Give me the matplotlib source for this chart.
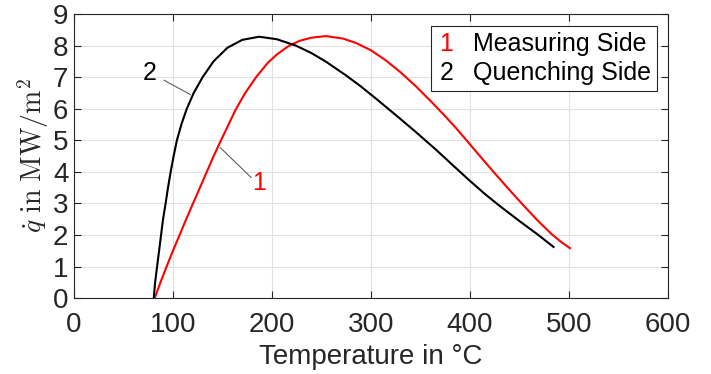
import matplotlib
matplotlib.use('Agg')
import matplotlib.pyplot as plt
import matplotlib.text as mtext
from matplotlib.lines import Line2D

plt.rcParams['font.family'] = ['Liberation Sans', 'DejaVu Sans']
plt.rcParams['mathtext.fontset'] = 'cm'

# measuring side (1)
temp_meas = [81.6, 88, 94, 100, 106.7, 113, 120, 127, 133.6, 140, 147, 155, 163, 173, 184,
             195.7, 205, 217.5, 228, 240, 254.5, 272, 285, 300, 315, 330, 345, 360,
             372, 385, 397, 410, 424, 438, 452.5, 467, 482.7, 492, 501]
q_meas = [0, 0.55, 1.03, 1.5, 2.0, 2.47, 2.98, 3.48, 3.96, 4.42, 4.9, 5.42, 5.95, 6.5, 7.0,
          7.45, 7.72, 8.0, 8.15, 8.25, 8.3, 8.22, 8.08, 7.85, 7.53, 7.15, 6.72, 6.25,
          5.86, 5.42, 4.98, 4.5, 3.99, 3.49, 2.99, 2.5, 2.02, 1.78, 1.58]

# quenching side (2)
temp_quen = [80.6, 82, 84, 86, 88, 90, 92.6, 95, 97.7, 100.5, 104, 108.5, 114, 121, 130,
             141, 155, 170, 187, 205, 224, 240, 254.5, 275, 290, 305, 325, 345,
             365, 383, 399, 415, 430, 450, 469, 484.4]
q_quen = [0, 0.5, 1.0, 1.5, 2.0, 2.5, 3.0, 3.5, 4.0, 4.47, 5.0, 5.5, 6.0, 6.5, 7.0,
          7.5, 7.93, 8.18, 8.28, 8.2, 8.0, 7.76, 7.49, 7.05, 6.7, 6.32, 5.8, 5.27,
          4.72, 4.2, 3.74, 3.3, 2.92, 2.44, 2.0, 1.62]

xticks = [0, 100, 200, 300, 400, 500, 600]
yticks = list(range(10))
legend_marks = ['1', '2']
legend_names = ['Measuring Side', 'Quenching Side']
colors = ['#ff0000', '#000000']


class TextHandler:
    def __init__(self, s, color):
        self.s = s
        self.color = color

    def legend_artist(self, legend, orig_handle, fontsize, handlebox):
        t = mtext.Text(handlebox.width / 2, -handlebox.ydescent, self.s, color=self.color,
                       fontsize=fontsize, ha='center', va='baseline')
        handlebox.add_artist(t)
        return t


fig = plt.figure(figsize=(7.11, 3.74), dpi=100)
ax = fig.add_axes([0.104, 0.203, 0.8355, 0.7596])

ax.plot(temp_meas, q_meas, color=colors[0], lw=1.5, zorder=3)
ax.plot(temp_quen, q_quen, color=colors[1], lw=1.5, zorder=3)

ax.set_xlim(0, 600)
ax.set_ylim(0, 9)
ax.set_xticks(xticks)
ax.set_yticks(yticks)
ax.grid(True, color='#e1e1e1', lw=0.8)
ax.set_axisbelow(True)
ax.tick_params(direction='in', length=5, width=0.8, colors='#262626', labelsize=20,
               top=True, right=True, pad=4)
ax.tick_params(axis='x', pad=10)
for s in ax.spines.values():
    s.set_color('#262626')
    s.set_linewidth(0.8)

ax.set_xlabel('Temperature in °C', fontsize=20, color='#262626', labelpad=4.5)
ax.set_ylabel(r'$\dot{q}\ \mathrm{in}\ \mathrm{MW/m^2}$', fontsize=20, color='#262626',
              labelpad=1.5)

# curve labels
ax.plot([91, 117.5], [6.9, 6.45], color='#606060', lw=0.8)
ax.text(76.5, 7.12, '2', fontsize=18, color='k', ha='center', va='center')
ax.plot([179, 148], [3.82, 4.76], color='#606060', lw=0.8)
ax.text(186.6, 3.63, '1', fontsize=18, color=colors[0], ha='center', va='center')

h1 = Line2D([], [])
h2 = Line2D([], [])
leg = ax.legend([h1, h2], legend_names,
                handler_map={h1: TextHandler(legend_marks[0], colors[0]),
                             h2: TextHandler(legend_marks[1], colors[1])},
                loc='upper right', bbox_to_anchor=(0.9815, 0.958), fontsize=18,
                handlelength=0.7, handletextpad=0.7, borderpad=0.25, labelspacing=0.2,
                borderaxespad=0, fancybox=False, framealpha=1, edgecolor='#262626')
leg.get_frame().set_linewidth(0.8)

fig.savefig('out.png', dpi=100)
